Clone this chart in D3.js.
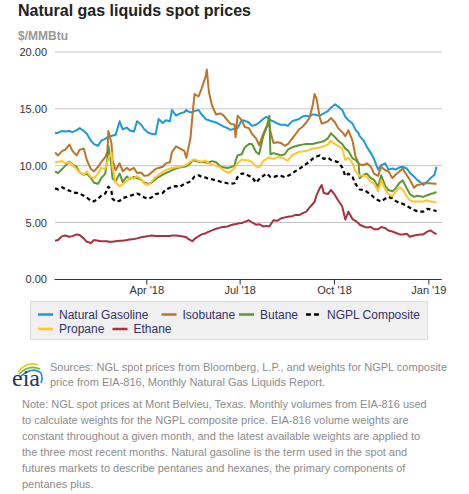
<!DOCTYPE html>
<html><head><meta charset="utf-8">
<script src="https://cdn.jsdelivr.net/npm/d3@7"></script>
<style>
body{margin:0;background:#fff;font-family:"Liberation Sans",Arial,sans-serif;}
svg{display:block;}
</style></head>
<body>
<svg id="c" width="469" height="494"></svg>
<script>
const dates = ["2018-01-02","2018-01-05","2018-01-09","2018-01-12","2018-01-16","2018-01-19","2018-01-23","2018-01-26","2018-01-30","2018-02-02","2018-02-06","2018-02-09","2018-02-13","2018-02-16","2018-02-20","2018-02-22","2018-02-23","2018-02-26","2018-02-27","2018-03-02","2018-03-06","2018-03-09","2018-03-13","2018-03-16","2018-03-20","2018-03-23","2018-03-27","2018-03-30","2018-04-03","2018-04-06","2018-04-10","2018-04-13","2018-04-17","2018-04-20","2018-04-24","2018-04-26","2018-04-30","2018-05-04","2018-05-08","2018-05-10","2018-05-11","2018-05-14","2018-05-16","2018-05-18","2018-05-22","2018-05-25","2018-05-29","2018-05-30","2018-06-01","2018-06-04","2018-06-08","2018-06-12","2018-06-15","2018-06-19","2018-06-22","2018-06-26","2018-06-27","2018-06-29","2018-07-03","2018-07-06","2018-07-10","2018-07-13","2018-07-17","2018-07-20","2018-07-24","2018-07-27","2018-07-30","2018-07-31","2018-08-03","2018-08-07","2018-08-10","2018-08-14","2018-08-17","2018-08-21","2018-08-24","2018-08-28","2018-08-31","2018-09-04","2018-09-07","2018-09-10","2018-09-12","2018-09-14","2018-09-17","2018-09-19","2018-09-21","2018-09-25","2018-09-28","2018-10-02","2018-10-05","2018-10-09","2018-10-12","2018-10-15","2018-10-19","2018-10-22","2018-10-25","2018-10-26","2018-10-30","2018-11-02","2018-11-06","2018-11-09","2018-11-13","2018-11-16","2018-11-20","2018-11-23","2018-11-27","2018-11-30","2018-12-04","2018-12-07","2018-12-11","2018-12-14","2018-12-18","2018-12-21","2018-12-24","2018-12-27","2018-12-31","2019-01-03","2019-01-07","2019-01-09"];

const naturalGasoline = [12.85,12.9,13.05,13.0,13.05,12.95,13.1,13.3,13.05,12.8,12.2,11.9,11.75,12.2,12.35,12.5,12.55,12.6,12.65,12.7,13.9,13.2,13.35,13.1,13.0,13.9,13.6,13.2,12.9,12.8,12.75,14.1,13.75,14.0,13.9,14.9,14.4,14.6,14.7,14.9,14.8,14.7,14.7,14.8,14.9,14.5,14.1,14.05,14.0,13.9,13.8,13.6,13.45,13.3,13.15,13.25,13.2,13.3,
  14.0,13.95,13.8,13.5,13.6,13.8,14.1,14.3,14.1,14.0,13.9,13.7,13.6,13.6,13.5,13.9,14.0,14.1,14.3,14.4,14.3,14.5,14.5,14.45,14.4,14.5,14.6,14.8,15.1,15.4,15.2,14.9,14.3,14.0,13.7,13.15,
  12.85,12.6,12.2,11.65,11.1,10.6,9.65,10.05,10.2,9.65,9.75,9.65,9.85,9.9,9.75,9.35,9.05,8.75,8.55,8.3,8.6,8.9,9.2,9.9];

const isobutane = [11.15,10.9,11.3,11.4,11.85,11.3,10.9,11.4,11.5,10.5,9.7,9.5,9.9,10.3,10.75,11.2,13.05,12.0,10.5,9.6,10.2,9.5,9.8,9.6,9.8,9.35,9.4,9.1,9.15,9.4,9.7,9.8,9.9,10.2,10.3,11.2,11.7,11.5,11.3,10.7,11.1,12.4,14.4,16.3,16.1,16.8,17.9,18.45,16.5,15.3,14.5,14.6,14.45,14.0,13.7,13.6,12.5,14.4,
  14.0,13.4,13.3,12.8,12.4,11.8,12.8,13.4,13.6,13.0,12.0,12.05,12.0,11.75,11.9,12.35,12.7,13.2,13.4,13.8,14.2,15.2,16.3,15.9,14.3,13.7,13.75,13.9,14.2,13.8,13.3,12.95,12.6,13.1,12.2,10.8,
  10.2,10.1,10.05,10.2,9.9,9.3,9.1,9.9,9.6,9.5,8.9,9.2,9.5,9.75,9.15,8.75,8.05,8.3,8.35,8.45,8.45,8.45,8.4,8.4];

const butane = [9.5,9.35,9.7,10.0,10.35,10.1,9.9,9.4,9.2,9.3,8.9,8.5,8.4,8.9,9.3,10.6,11.75,10.0,8.9,8.6,9.3,8.55,9.05,8.85,9.0,8.9,8.75,8.5,8.4,8.5,8.8,9.0,9.2,9.35,9.5,9.6,9.75,9.85,9.9,9.95,10.0,10.2,10.45,10.45,10.35,10.3,10.3,10.25,10.3,10.4,10.3,9.95,9.85,9.8,9.85,10.0,10.4,10.9,
  11.0,11.6,11.9,11.9,11.2,11.0,12.6,13.3,14.4,11.0,11.1,11.0,10.9,11.0,11.4,11.6,11.7,11.8,11.85,11.9,11.9,11.9,11.95,12.0,12.05,12.1,12.15,12.4,12.85,12.5,12.2,11.9,11.5,11.3,10.65,10.5,
  10.2,8.9,9.2,9.3,8.9,8.75,8.15,9.15,8.2,7.85,7.75,8.0,8.5,8.7,8.0,7.5,7.25,7.35,7.3,7.25,7.4,7.5,7.6,7.7];

const ngplComposite = [8.0,7.9,8.1,7.95,7.8,7.65,7.6,7.55,7.35,7.2,6.9,6.85,7.1,7.35,7.55,7.9,8.15,7.8,7.1,6.85,6.9,7.15,7.25,7.35,7.45,7.55,7.4,7.2,7.1,7.2,7.5,7.55,7.6,7.9,8.05,8.15,8.2,8.15,8.4,8.45,8.5,8.6,8.8,9.05,9.15,9.0,8.95,8.9,8.85,8.8,8.7,8.6,8.55,8.45,8.4,8.45,8.6,9.0,
  9.3,9.3,9.1,9.0,8.5,8.8,9.1,9.3,9.1,9.0,9.0,9.1,9.1,9.0,9.1,9.3,9.5,9.7,9.9,10.15,10.35,10.6,10.7,10.8,10.9,10.75,10.6,10.7,10.5,10.4,10.3,9.85,9.1,9.3,9.0,8.4,
  8.0,7.9,7.85,7.7,7.45,7.2,6.95,6.85,7.1,7.25,7.1,6.9,6.7,6.65,6.45,6.3,6.1,6.0,5.95,5.95,6.2,6.15,6.05,6.0];

const propane = [10.27,10.35,10.4,10.2,10.3,10.05,9.7,9.4,9.2,9.5,9.0,8.9,9.3,9.8,9.7,10.3,10.6,11.15,9.9,8.5,8.2,8.35,8.65,8.95,8.85,9.1,8.8,8.4,8.3,8.6,9.0,9.2,9.45,9.6,9.75,9.8,9.85,9.9,10.0,10.1,10.15,10.35,10.5,10.55,10.4,10.35,10.45,10.3,10.2,10.1,10.0,9.85,9.6,9.4,9.45,9.8,9.95,10.2,
  10.55,10.5,10.45,10.3,9.95,9.85,10.4,10.6,10.75,10.65,10.6,10.75,10.7,10.6,10.45,10.9,11.05,11.2,11.25,11.3,11.4,11.5,11.5,11.55,11.6,11.65,11.7,11.85,12.2,11.9,11.75,11.5,10.5,10.7,10.2,9.5,
  9.2,9.1,9.15,9.0,8.6,8.45,7.75,8.7,7.9,7.5,7.3,7.7,8.1,7.9,7.3,6.95,6.85,6.85,6.85,6.85,6.95,6.85,6.8,6.75];

const ethane = [3.4,3.45,3.8,3.85,3.75,3.8,3.95,3.9,3.6,3.3,3.2,3.45,3.4,3.35,3.35,3.35,3.3,3.3,3.3,3.35,3.4,3.4,3.45,3.5,3.55,3.6,3.7,3.75,3.8,3.85,3.8,3.8,3.8,3.8,3.8,3.85,3.85,3.8,3.75,3.7,3.6,3.45,3.35,3.55,3.8,3.95,4.05,4.1,4.2,4.3,4.45,4.55,4.6,4.65,4.75,4.85,4.85,4.9,
  4.95,5.05,5.2,5.0,4.8,4.85,4.65,4.7,4.65,4.8,5.2,5.15,5.35,5.45,5.5,5.55,5.65,5.65,5.8,5.95,6.3,6.6,6.8,7.4,8.0,8.3,7.6,7.5,7.86,7.4,6.95,6.4,5.25,5.95,5.3,5.15,
  4.93,4.8,4.65,4.55,4.6,4.4,4.4,4.6,4.5,4.3,4.2,4.1,3.95,3.95,4.0,3.75,3.85,3.9,3.95,3.95,4.2,4.3,4.05,3.98];

const seriesNames = ["Natural Gasoline","Isobutane","Butane","NGPL Composite","Propane","Ethane"];
const seriesValues = [naturalGasoline, isobutane, butane, ngplComposite, propane, ethane];
const seriesColors = ["#1a9bd7","#bd732a","#5d9732","#000000","#ffc52b","#a33340"];
const yTicks = [0,5,10,15,20];
const xTickDates = ["2018-04-01","2018-07-01","2018-10-01","2019-01-01"];
const xTickLabels = ["Apr '18","Jul '18","Oct '18","Jan '19"];

const parse = d3.timeParse("%Y-%m-%d");
const svg = d3.select("#c");
const FONT = "Liberation Sans, Arial, sans-serif";

svg.append("text").attr("x",18).attr("y",16).attr("font-size",16).attr("font-weight","bold").attr("fill","#222").text("Natural gas liquids spot prices");
svg.append("text").attr("x",18).attr("y",40).attr("font-size",12).attr("font-weight","bold").attr("fill","#999").text("$/MMBtu");

const x = d3.scaleTime().domain([parse("2018-01-01"), parse("2019-01-14")]).range([54, 441.7]);
const y = d3.scaleLinear().domain([0,20]).range([279.3, 52]);

const grid = svg.append("g");
grid.selectAll("line").data(yTicks.filter(d=>d>0)).join("line")
  .attr("x1",55).attr("x2",442).attr("y1",d=>y(d)).attr("y2",d=>y(d))
  .attr("stroke","#c4c4c4").attr("stroke-width",1);

const yAxis = d3.axisLeft(y).tickValues(yTicks).tickFormat(d3.format(".2f")).tickSize(0).tickPadding(8);
const yg = svg.append("g").attr("transform","translate(55,0)").call(yAxis);
yg.select(".domain").remove();
yg.selectAll("text").attr("font-size",11).attr("fill","#333").attr("font-family",FONT);

const xAxis = d3.axisBottom(x).tickValues(xTickDates.map(parse)).tickFormat((d,i)=>xTickLabels[i]).tickSize(5).tickSizeOuter(0).tickPadding(2);
const xg = svg.append("g").attr("transform","translate(0,279.5)").call(xAxis);
xg.select(".domain").attr("stroke","#333").attr("d","M54.5,0H441.7");
xg.selectAll(".tick line").attr("stroke","#333");
xg.selectAll("text").attr("font-size",11).attr("fill","#333").attr("font-family",FONT);

const parsedDates = dates.map(parse);
const line = d3.line().x((d,i)=>x(parsedDates[i])).y(d=>y(d));
const lg = svg.append("g").attr("fill","none");
seriesValues.forEach((vals,k)=>{
  lg.append("path").attr("d", line(vals))
    .attr("stroke", seriesColors[k]).attr("stroke-width", k===3?2.2:2)
    .attr("stroke-linejoin","round")
    .attr("stroke-dasharray", k===3 ? "4,3" : null);
});

const leg = svg.append("g");
leg.append("rect").attr("x",30.5).attr("y",301.5).attr("width",397).attr("height",38).attr("fill","#f0f0f0").attr("stroke","#dcdcdc");
const legPos = [[38,314.5],[161.5,314.5],[239,314.5],[306,314.5],[38,329],[112.5,329]];
seriesNames.forEach((n,k)=>{
  const [lx,ly] = legPos[k];
  leg.append("line").attr("x1",lx).attr("x2",lx+15).attr("y1",ly).attr("y2",ly)
    .attr("stroke",seriesColors[k]).attr("stroke-width",2.5)
    .attr("stroke-dasharray", k===3 ? "5,3" : null);
  leg.append("text").attr("x",lx+21).attr("y",ly+4.2).attr("font-size",12).attr("fill","#333366").text(n);
});

const logo = svg.append("g");
logo.append("path").attr("d","M18,372 Q27,361 38,365").attr("fill","none").attr("stroke","#f4c531").attr("stroke-width",1.6);
logo.append("path").attr("d","M19,374 Q29,364 40,369").attr("fill","none").attr("stroke","#7ab648").attr("stroke-width",1.6);
logo.append("path").attr("d","M21,376 Q33,366 41,373 Q43,378 41,383").attr("fill","none").attr("stroke","#1a8dcb").attr("stroke-width",1.6);
logo.append("text").attr("x",12).attr("y",386).attr("font-size",24).attr("font-family","Liberation Serif, DejaVu Serif, serif").attr("fill","#1d3561").text("eia");

const srcLines = ["Sources: NGL spot prices from Bloomberg, L.P., and weights for NGPL composite","price from EIA-816, Monthly Natural Gas Liquids Report."];
srcLines.forEach((t,i)=>svg.append("text").attr("x",50).attr("y",371+i*15).attr("font-size",11).attr("fill","#8c8c8c").text(t));
const noteLines = ["Note: NGL spot prices at Mont Belvieu, Texas. Monthly volumes from EIA-816 used","to calculate weights for the NGPL composite price. EIA-816 volume weights are","constant throughout a given month, and the latest available weights are applied to","the three most recent months. Natural gasoline is the term used in the spot and","futures markets to describe pentanes and hexanes, the primary components of","pentanes plus."];
noteLines.forEach((t,i)=>svg.append("text").attr("x",22).attr("y",407.7+i*16).attr("font-size",11).attr("fill","#8c8c8c").text(t));
</script>
</body></html>
